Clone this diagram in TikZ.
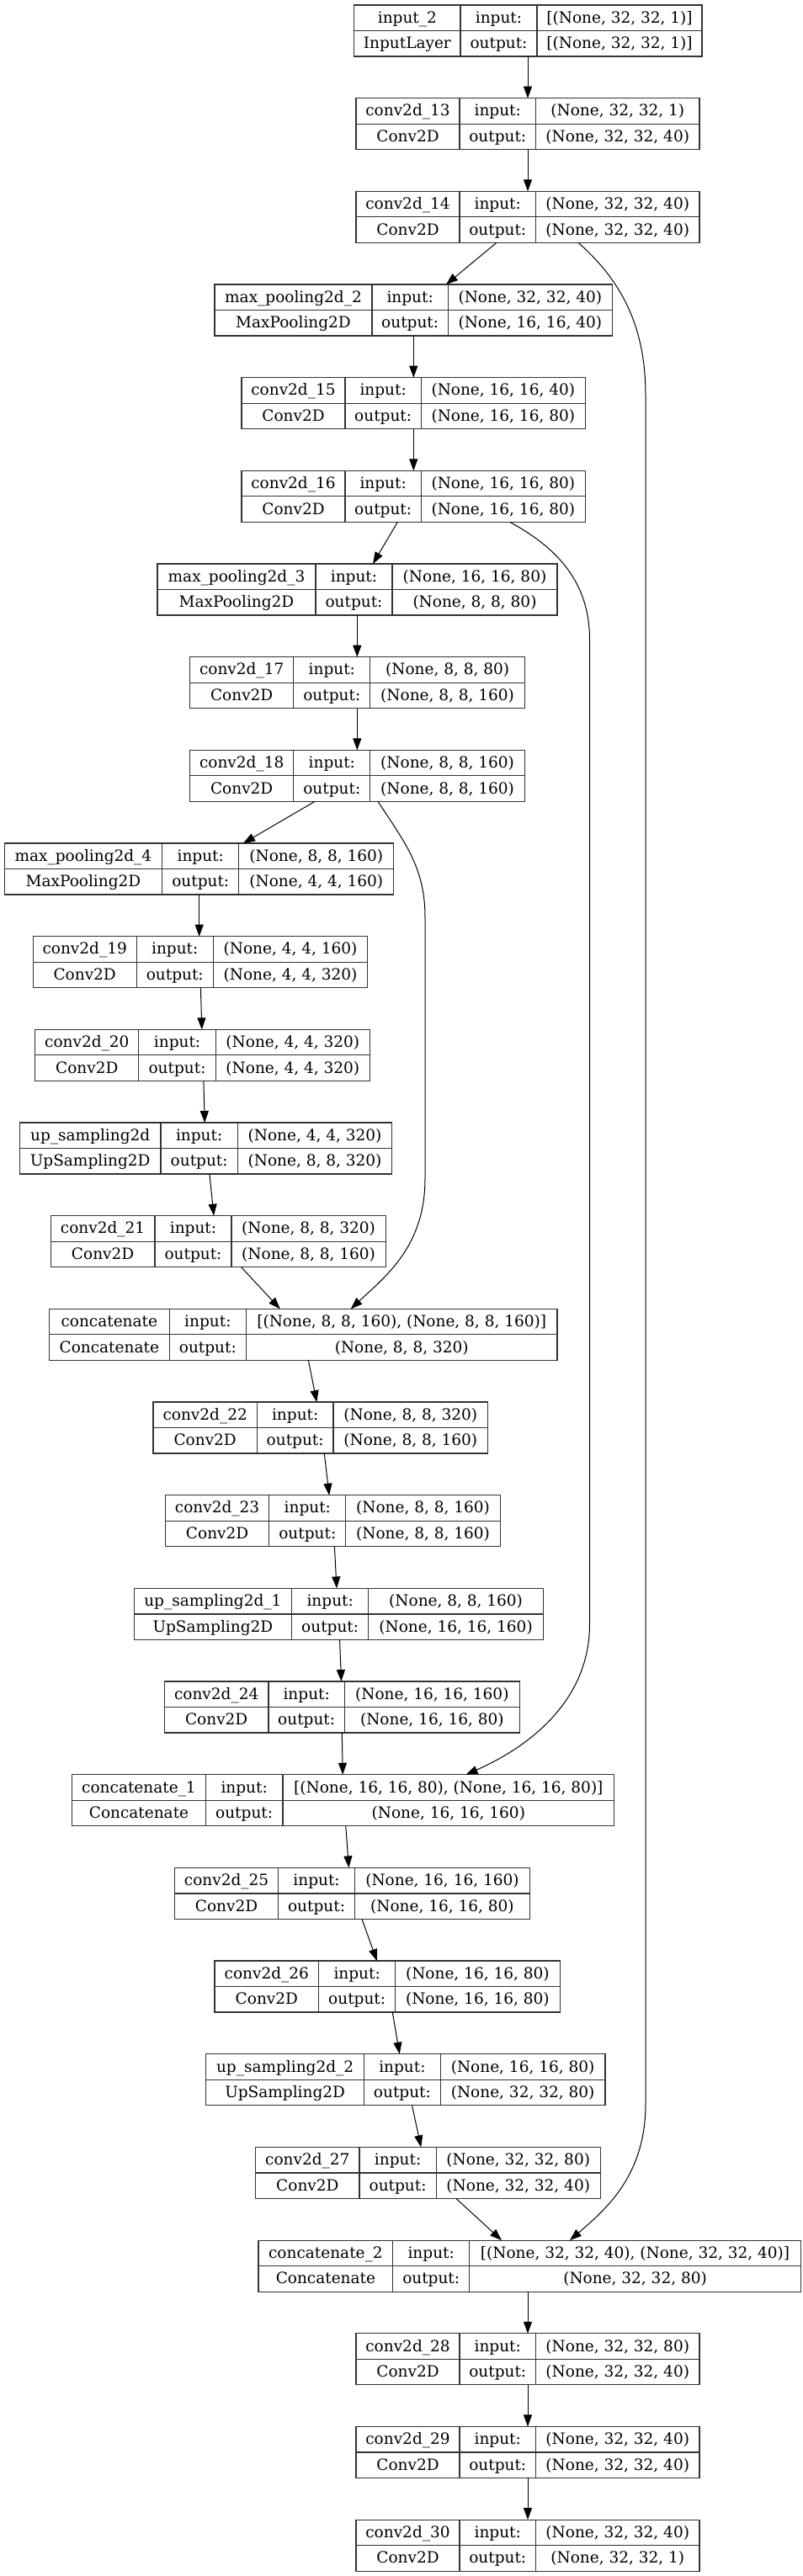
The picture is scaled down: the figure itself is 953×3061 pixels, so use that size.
\documentclass[tikz,border=0pt]{standalone}
\usepackage{fontspec}
\setmainfont{DejaVu Serif}
\usetikzlibrary{arrows.meta,calc}

\tikzset{
  layer/.style={draw=black!80,line width=1.2pt,inner sep=0pt,outer sep=0pt,minimum height=61pt,anchor=north west},
  cell/.style={inner sep=0pt,anchor=base,font=\fontsize{18.5}{22}\selectfont},
  edge/.style={-{Triangle[length=14pt,width=10pt]},line width=1pt},
}

\newcommand{\layerbox}[6]{%
  \pgfmathsetmacro{\ytop}{6+110.67*#2}
  \node[layer,minimum width={(#6)-(#3)}](#1)at(#3,\ytop){};
  \draw[draw=black!80,line width=1.2pt](#4,\ytop)--++(0,61)(#5,\ytop)--++(0,61)(#3,\ytop+30.5)--(#6,\ytop+30.5);
  \coordinate(#1-a)at(#4,\ytop);
  \coordinate(#1-b)at(#5,\ytop);
}
\newcommand{\layertext}[5]{%
  \node[cell](#1-name)at($(#1.north west)!0.5!(#1-a)+(0,21.25)$){#2};
  \node[cell](#1-class)at($(#1.north west)!0.5!(#1-a)+(0,51.75)$){#3};
  \node[cell](#1-inlbl)at($(#1-a)!0.5!(#1-b)+(0,21.25)$){input:};
  \node[cell](#1-outlbl)at($(#1-a)!0.5!(#1-b)+(0,51.75)$){output:};
  \node[cell](#1-in)at($(#1-b)!0.5!(#1.north east)+(0,21.25)$){#4};
  \node[cell](#1-out)at($(#1-b)!0.5!(#1.north east)+(0,51.75)$){#5};
}

\begin{document}
\begin{tikzpicture}[x=1pt,y=-1pt]
    \useasboundingbox(0,0)rectangle(953,3061);

    \layerbox{input2}{0}{420.7}{547}{638}{834}
    \layertext{input2}{input\_2}{InputLayer}{[(None, 32, 32, 1)]}{[(None, 32, 32, 1)]}
    \layerbox{conv13}{1}{423}{546}{636.5}{831}
    \layertext{conv13}{conv2d\_13}{Conv2D}{(None, 32, 32, 1)}{(None, 32, 32, 40)}
    \layerbox{conv14}{2}{423}{546}{636.5}{831}
    \layertext{conv14}{conv2d\_14}{Conv2D}{(None, 32, 32, 40)}{(None, 32, 32, 40)}
    \layerbox{pool2}{3}{255}{442}{532.3}{727.3}
    \layertext{pool2}{max\_pooling2d\_2}{MaxPooling2D}{(None, 32, 32, 40)}{(None, 16, 16, 40)}
    \layerbox{conv15}{4}{287}{410}{500.3}{695.3}
    \layertext{conv15}{conv2d\_15}{Conv2D}{(None, 16, 16, 40)}{(None, 16, 16, 80)}
    \layerbox{conv16}{5}{287}{410}{500.3}{695.3}
    \layertext{conv16}{conv2d\_16}{Conv2D}{(None, 16, 16, 80)}{(None, 16, 16, 80)}
    \layerbox{pool3}{6}{187}{375}{466}{662}
    \layertext{pool3}{max\_pooling2d\_3}{MaxPooling2D}{(None, 16, 16, 80)}{(None, 8, 8, 80)}
    \layerbox{conv17}{7}{225.6}{348.8}{439.8}{623.4}
    \layertext{conv17}{conv2d\_17}{Conv2D}{(None, 8, 8, 80)}{(None, 8, 8, 160)}
    \layerbox{conv18}{8}{225.6}{348.8}{439.8}{623.4}
    \layertext{conv18}{conv2d\_18}{Conv2D}{(None, 8, 8, 160)}{(None, 8, 8, 160)}
    \layerbox{pool4}{9}{5.2}{192.7}{283.8}{467.7}
    \layertext{pool4}{max\_pooling2d\_4}{MaxPooling2D}{(None, 8, 8, 160)}{(None, 4, 4, 160)}
    \layerbox{conv19}{10}{39.2}{162.2}{253.3}{436.8}
    \layertext{conv19}{conv2d\_19}{Conv2D}{(None, 4, 4, 160)}{(None, 4, 4, 320)}
    \layerbox{conv20}{11}{41.8}{164.8}{256.3}{439.4}
    \layertext{conv20}{conv2d\_20}{Conv2D}{(None, 4, 4, 320)}{(None, 4, 4, 320)}
    \layerbox{upsamp0}{12}{23.5}{190.9}{282.5}{465.6}
    \layertext{upsamp0}{up\_sampling2d}{UpSampling2D}{(None, 4, 4, 320)}{(None, 8, 8, 320)}
    \layerbox{conv21}{13}{60.2}{184}{275}{458.2}
    \layertext{conv21}{conv2d\_21}{Conv2D}{(None, 8, 8, 320)}{(None, 8, 8, 160)}
    \layerbox{concat0}{14}{58.3}{201.3}{292.4}{662}
    \layertext{concat0}{concatenate}{Concatenate}{[(None, 8, 8, 160), (None, 8, 8, 160)]}{(None, 8, 8, 320)}
    \layerbox{conv22}{15}{182}{305.4}{396}{579.5}
    \layertext{conv22}{conv2d\_22}{Conv2D}{(None, 8, 8, 320)}{(None, 8, 8, 160)}
    \layerbox{conv23}{16}{196.4}{319.8}{410.8}{594.3}
    \layertext{conv23}{conv2d\_23}{Conv2D}{(None, 8, 8, 160)}{(None, 8, 8, 160)}
    \layerbox{upsamp1}{17}{159.1}{346.7}{437.7}{645.5}
    \layertext{upsamp1}{up\_sampling2d\_1}{UpSampling2D}{(None, 8, 8, 160)}{(None, 16, 16, 160)}
    \layerbox{conv24}{18}{195.5}{318.9}{409.5}{617.2}
    \layertext{conv24}{conv2d\_24}{Conv2D}{(None, 16, 16, 160)}{(None, 16, 16, 80)}
    \layerbox{concat1}{19}{85.6}{244.4}{335.9}{729.8}
    \layertext{concat1}{concatenate\_1}{Concatenate}{[(None, 16, 16, 80), (None, 16, 16, 80)]}{(None, 16, 16, 160)}
    \layerbox{conv25}{20}{207.6}{330.5}{421.6}{629.3}
    \layertext{conv25}{conv2d\_25}{Conv2D}{(None, 16, 16, 160)}{(None, 16, 16, 80)}
    \layerbox{conv26}{21}{255}{378.7}{469.6}{665.1}
    \layertext{conv26}{conv2d\_26}{Conv2D}{(None, 16, 16, 80)}{(None, 16, 16, 80)}
    \layerbox{upsamp2}{22}{244.8}{432.5}{523.3}{718.9}
    \layertext{upsamp2}{up\_sampling2d\_2}{UpSampling2D}{(None, 16, 16, 80)}{(None, 32, 32, 80)}
    \layerbox{conv27}{23}{303.7}{427}{518.2}{713.3}
    \layertext{conv27}{conv2d\_27}{Conv2D}{(None, 32, 32, 80)}{(None, 32, 32, 40)}
    \layerbox{concat2}{24}{307}{466.8}{557.6}{951.5}
    \layertext{concat2}{concatenate\_2}{Concatenate}{[(None, 32, 32, 40), (None, 32, 32, 40)]}{(None, 32, 32, 80)}
    \layerbox{conv28}{25}{423}{546}{636.5}{831}
    \layertext{conv28}{conv2d\_28}{Conv2D}{(None, 32, 32, 80)}{(None, 32, 32, 40)}
    \layerbox{conv29}{26}{423}{546}{636.5}{831}
    \layertext{conv29}{conv2d\_29}{Conv2D}{(None, 32, 32, 40)}{(None, 32, 32, 40)}
    \layerbox{conv30}{27}{423}{546}{636.5}{831}
    \layertext{conv30}{conv2d\_30}{Conv2D}{(None, 32, 32, 40)}{(None, 32, 32, 1)}

    \draw[edge](input2.south -| 627,0)--(conv13.north -| 627,0);
    \draw[edge](conv13.south -| 627,0)--(conv14.north -| 627,0);
    \draw[edge](conv14.south -| 590,0)--(pool2.north -| 530,0);
    \draw[edge](pool2.south -| 491.3,0)--(conv15.north -| 491.3,0);
    \draw[edge](conv15.south -| 491.3,0)--(conv16.north -| 491.3,0);
    \draw[edge](conv16.south -| 472.3,0)--(pool3.north -| 443,0);
    \draw[edge](pool3.south -| 424.3,0)--(conv17.north -| 424.3,0);
    \draw[edge](conv17.south -| 424.3,0)--(conv18.north -| 424.3,0);
    \draw[edge](conv18.south -| 374,0)--(pool4.north -| 289,0);
    \draw[edge](pool4.south -| 236.7,0)--(conv19.north -| 236.7,0);
    \draw[edge](conv19.south -| 238.4,0)--(conv20.north -| 239.8,0);
    \draw[edge](conv20.south -| 241.9,0)--(upsamp0.north -| 243.2,0);
    \draw[edge](upsamp0.south -| 248.9,0)--(conv21.north -| 254.1,0);
    \draw[edge](conv21.south -| 286.6,0)--(concat0.north -| 332.8,0);
    \draw[edge](concat0.south -| 366.4,0)--(conv22.north -| 376.3,0);
    \draw[edge](conv22.south -| 385.3,0)--(conv23.north -| 391.1,0);
    \draw[edge](conv23.south -| 397.4,0)--(upsamp1.north -| 400,0);
    \draw[edge](upsamp1.south -| 403.6,0)--(conv24.north -| 405.4,0);
    \draw[edge](conv24.south -| 406.3,0)--(concat1.north -| 407.2,0);
    \draw[edge](concat1.south -| 410.8,0)--(conv25.north -| 414.4,0);
    \draw[edge](conv25.south -| 430,0)--(conv26.north -| 447.8,0);
    \draw[edge](conv26.south -| 466.3,0)--(upsamp2.north -| 474.7,0);
    \draw[edge](upsamp2.south -| 489.5,0)--(conv27.north -| 500.2,0);
    \draw[edge](conv27.south -| 541.9,0)--(concat2.north -| 596,0);
    \draw[edge](concat2.south -| 627,0)--(conv28.north -| 627,0);
    \draw[edge](conv28.south -| 627,0)--(conv29.north -| 627,0);
    \draw[edge](conv29.south -| 627,0)--(conv30.north -| 627,0);

    \draw[edge](conv14.south -| 687,0)..controls(740,335)and(767,390)..(767,470)--(767,2500)..controls(767,2585)and(720,2625)..(concat2.north -| 677,0);
    \draw[edge](conv16.south -| 605.7,0)..controls(660,650)and(700.5,690)..(700.5,760)--(700.5,1930)..controls(700.5,2020)and(630,2075)..(concat1.north -| 553.5,0);
    \draw[edge](conv18.south -| 449,0)..controls(480,1000)and(505,1030)..(505,1090)--(505,1400)..controls(505,1480)and(460,1515)..(concat0.north -| 416.7,0);
\end{tikzpicture}
\end{document}
